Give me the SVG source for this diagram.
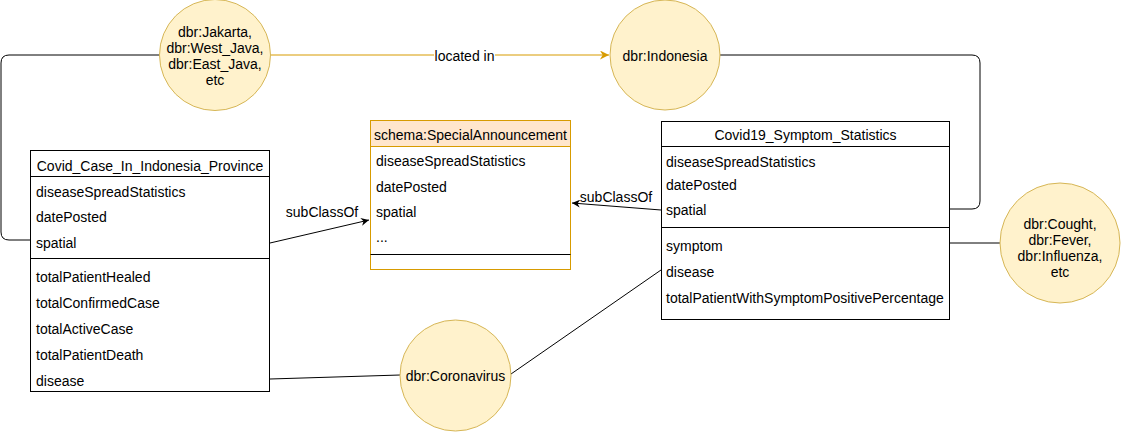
<svg xmlns="http://www.w3.org/2000/svg" width="1121" height="432" viewBox="0 0 1121 432">
<style>
text{font-family:"Liberation Sans",Arial,sans-serif;font-size:14px;fill:#000}
.c{text-anchor:middle}
.box{fill:#fff;stroke:#000;stroke-width:1}
.obox{fill:#fff;stroke:#d79b00;stroke-width:1}
.ohead{fill:#ffe6cc;stroke:#d79b00;stroke-width:1}
.circ{fill:#fff2cc;stroke:#d6b656;stroke-width:1}
.sep{stroke:#000;stroke-width:1}
.e{fill:none;stroke:#000;stroke-width:1}
.eo{fill:none;stroke:#d79b00;stroke-width:1}
.lbg{fill:#fff}
</style>
<defs>
<marker id="ab" viewBox="0 0 10 10" refX="10" refY="5" markerWidth="8" markerHeight="8" markerUnits="userSpaceOnUse" orient="auto">
<path d="M0,0 L10,5 L0,10 L3,5 Z" fill="#000"/>
</marker>
<marker id="ao" viewBox="0 0 10 10" refX="10" refY="5" markerWidth="9" markerHeight="9" markerUnits="userSpaceOnUse" orient="auto">
<path d="M0,0 L10,5 L0,10 L3,5 Z" fill="#d79b00"/>
</marker>
</defs>

<g id="connectors">
<path class="e" d="M159,55 H9 Q1,55 1,63 V232 Q1,240 9,240 H30"/>
<path class="e" d="M720,55 H972 Q980,55 980,63 V201 Q980,209 972,209 H950"/>
<path class="eo" d="M271,55 H609" marker-end="url(#ao)"/>
<rect class="lbg" x="434" y="47" width="61" height="17"/>
<text class="c" x="464.5" y="61">located in</text>
<path class="e" d="M270,243 L369,220" marker-end="url(#ab)"/>
<text class="c" x="322" y="217">subClassOf</text>
<path class="e" d="M661,210 L572,203" marker-end="url(#ab)"/>
<rect class="lbg" x="580" y="189" width="72" height="14"/>
<text class="c" x="616" y="202">subClassOf</text>
<path class="e" d="M950,243 H1000"/>
<path class="e" d="M270,379 L400,375"/>
<path class="e" d="M511,374 L661,270"/>
</g>

<g id="n-jakarta">
<circle class="circ" cx="215" cy="55" r="55.5"/>
<text class="c" x="215" y="37">dbr:Jakarta,</text>
<text class="c" x="215" y="53">dbr:West_Java,</text>
<text class="c" x="215" y="69">dbr:East_Java,</text>
<text class="c" x="215" y="85">etc</text>
</g>

<g id="n-indonesia">
<circle class="circ" cx="665" cy="55" r="55"/>
<text class="c" x="665" y="61">dbr:Indonesia</text>
</g>

<g id="n-coronavirus">
<circle class="circ" cx="455.5" cy="375.5" r="55.5"/>
<text class="c" x="455.5" y="381">dbr:Coronavirus</text>
</g>

<g id="n-symptoms">
<circle class="circ" cx="1060" cy="243" r="60"/>
<text class="c" x="1060" y="229">dbr:Cought,</text>
<text class="c" x="1060" y="245">dbr:Fever,</text>
<text class="c" x="1060" y="261">dbr:Influenza,</text>
<text class="c" x="1060" y="277">etc</text>
</g>

<g id="n-covid-case">
<rect class="box" x="30.5" y="150.5" width="239" height="241"/>
<line class="sep" x1="30.5" y1="176.5" x2="269.5" y2="176.5"/>
<line class="sep" x1="30.5" y1="258.5" x2="269.5" y2="258.5"/>
<text class="c" x="150" y="171">Covid_Case_In_Indonesia_Province</text>
<text x="36" y="197">diseaseSpreadStatistics</text>
<text x="36" y="222">datePosted</text>
<text x="36" y="248">spatial</text>
<text x="36" y="282">totalPatientHealed</text>
<text x="36" y="308">totalConfirmedCase</text>
<text x="36" y="334">totalActiveCase</text>
<text x="36" y="360">totalPatientDeath</text>
<text x="36" y="386">disease</text>
</g>

<g id="n-special-announcement">
<rect class="obox" x="370.5" y="120.5" width="200" height="149"/>
<rect class="ohead" x="370.5" y="120.5" width="200" height="26"/>
<line class="sep" x1="370.5" y1="254.5" x2="570.5" y2="254.5"/>
<text class="c" x="470.5" y="140">schema:SpecialAnnouncement</text>
<text x="376" y="166">diseaseSpreadStatistics</text>
<text x="376" y="192">datePosted</text>
<text x="376" y="217">spatial</text>
<text x="376" y="242">...</text>
</g>

<g id="n-symptom-stats">
<rect class="box" x="661.5" y="121.5" width="288" height="198"/>
<line class="sep" x1="661.5" y1="146.5" x2="949.5" y2="146.5"/>
<line class="sep" x1="661.5" y1="227.5" x2="949.5" y2="227.5"/>
<text class="c" x="805.5" y="140">Covid19_Symptom_Statistics</text>
<text x="666" y="167">diseaseSpreadStatistics</text>
<text x="666" y="190">datePosted</text>
<text x="666" y="215">spatial</text>
<text x="666" y="251">symptom</text>
<text x="666" y="277">disease</text>
<text x="666" y="303">totalPatientWithSymptomPositivePercentage</text>
</g>
</svg>
